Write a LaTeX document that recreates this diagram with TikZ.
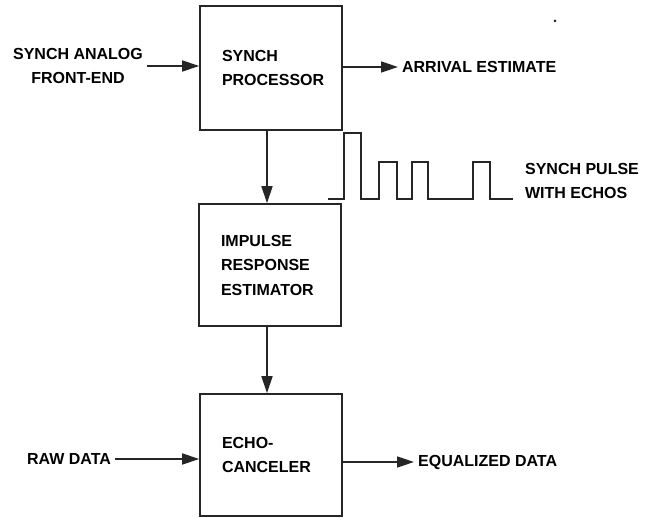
\documentclass[tikz,border=0pt]{standalone}
\usepackage{fontspec}
\setmainfont{Liberation Sans}
\usetikzlibrary{arrows.meta}

\begin{document}
\begin{tikzpicture}[x=1pt,y=-1pt,line width=1.6pt,draw=black!85,>={Triangle[length=17pt,width=11pt]},
  blk/.style={draw=black!85,minimum height=122pt,text width=98pt,inner xsep=22pt,align=left,
    font=\bfseries\fontsize{16}{24.5}\selectfont,
    execute at begin node={\hyphenpenalty=10000\exhyphenpenalty=10000}},
  lbl/.style={align=center,font=\bfseries\fontsize{16}{24}\selectfont}]
  \useasboundingbox (0,0) rectangle (646,518);
  % ===================== bloques =====================
  \node[blk,minimum height=124pt] (proc) at (271,68) {SYNCH\\PROCESSOR};
  \node[blk] (imp) at (270,265) {IMPULSE\\RESPONSE\\ESTIMATOR};
  \node[blk] (echo) at (271,455) {ECHO-\\CANCELER};
  % ===================== etiquetas =====================
  \node[lbl] (synin) at (78,66) {SYNCH ANALOG\\FRONT-END};
  \node[lbl,anchor=west] (arr) at (398,67) {ARRIVAL ESTIMATE};
  \node[lbl,anchor=west] (raw) at (23,459) {RAW DATA};
  \node[lbl,anchor=west] (eq) at (414,462) {EQUALIZED DATA};
  \node[lbl,anchor=west,align=left] (pulse) at (521,181) {SYNCH PULSE\\WITH ECHOS};
  % ===================== flechas =====================
  \draw[->] (synin.east) -- (synin.east -| proc.west);
  \draw[->] (proc.east |- arr.west) -- (arr.west);
  \draw[->] (proc.south -| 267,0) -- (imp.north -| 267,0);
  \draw[->] (imp.south -| 267,0) -- (echo.north -| 267,0);
  \draw[->] (raw.east) -- (raw.east -| echo.west);
  \draw[->] (echo.east |- eq.west) -- (eq.west);
  % ===================== pulso con ecos =====================
  \draw[line width=1.4pt] (328,199) -- (344,199) -- (344,133) -- (361,133) -- (361,199)
    -- (379,199) -- (379,162) -- (397,162) -- (397,199)
    -- (412,199) -- (412,162) -- (428,162) -- (428,199)
    -- (473,199) -- (473,162) -- (490,162) -- (490,199) -- (513,199);
  \fill[black!85] (555,21) circle (1.5pt);
\end{tikzpicture}
\end{document}
